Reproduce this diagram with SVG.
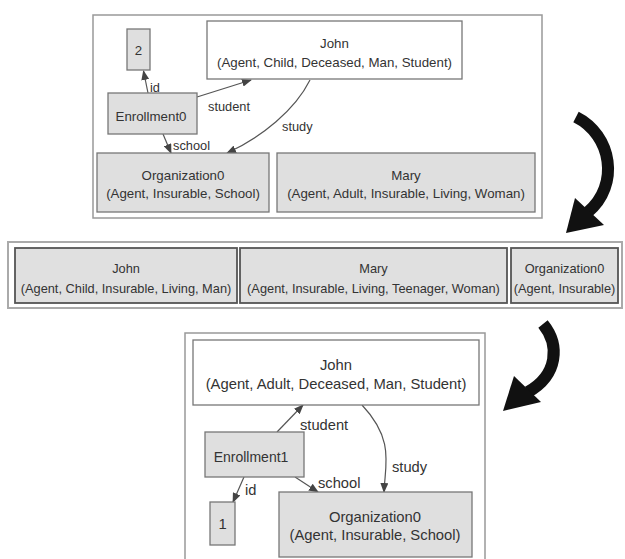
<svg xmlns="http://www.w3.org/2000/svg" width="625" height="559" viewBox="0 0 625 559">
<defs>
<style>
.frame{fill:#fff;stroke:#999;stroke-width:1.5}
.mframe{fill:#fff;stroke:#aaa;stroke-width:2}
.n{fill:#dfdfdf;stroke:#777;stroke-width:1.3}
.nw{fill:#fff;stroke:#777;stroke-width:1.3}
.nm{fill:#e0e0e0;stroke:#555;stroke-width:1.8}
text{font-family:"Liberation Sans",Arial,sans-serif;fill:#333;text-anchor:middle}
.t1{font-size:13.3px}
.t2{font-size:12.8px}
.t3{font-size:14.8px}
.l1{font-size:12.8px;text-anchor:start}
.l3{font-size:14.7px;text-anchor:start}
.e{fill:none;stroke:#555;stroke-width:1.2}
.big{fill:none;stroke:#111;stroke-width:12}
</style>
<marker id="ah" markerUnits="userSpaceOnUse" markerWidth="10" markerHeight="8" refX="9" refY="4" orient="auto" viewBox="0 0 10 8">
<path d="M0,0 L10,4 L0,8 Z" fill="#444"/>
</marker>
</defs>

<rect class="frame" x="93" y="15" width="449" height="203"/>
<rect class="mframe" x="8" y="242" width="614" height="66"/>
<rect class="frame" x="185" y="333" width="300" height="240"/>

<g id="connectors">
<path class="e" d="M148,93 L143.5,71" marker-end="url(#ah)"/>
<path class="e" d="M197,97 L251,80" marker-end="url(#ah)"/>
<path class="e" d="M310,80 C295,110 262,137 227,153" marker-end="url(#ah)"/>
<path class="e" d="M163,134 L171,153" marker-end="url(#ah)"/>
<text class="l1" x="150" y="91.5">id</text>
<text class="l1" x="208" y="110.5">student</text>
<text class="l1" x="282" y="130.5">study</text>
<text class="l1" x="173" y="149.5">school</text>

<path class="e" d="M277,432 L303,405" marker-end="url(#ah)"/>
<path class="e" d="M362,405 C395,440 385,465 384,492" marker-end="url(#ah)"/>
<path class="e" d="M295,477 L318,492" marker-end="url(#ah)"/>
<path class="e" d="M244,477 L233,502" marker-end="url(#ah)"/>
<text class="l3" x="300" y="430">student</text>
<text class="l3" x="392" y="472">study</text>
<text class="l3" x="318" y="488">school</text>
<text class="l3" x="245" y="495">id</text>

<path class="big" d="M576,117 C612,135 620,185 588,212"/>
<polygon points="575,198 604,225 566,233" fill="#111"/>
<path class="big" d="M543,324 C560,345 558,375 528,392"/>
<polygon points="514,376 541,402 503,411" fill="#111"/>
</g>

<g id="top-2"><rect class="n" x="127" y="29" width="23" height="41"/><text class="t1" x="138.5" y="54.7">2</text></g>
<g id="top-john"><rect class="nw" x="207" y="21" width="255" height="58"/><text class="t1" x="334.5" y="47.7">John</text><text class="t1" x="334.5" y="66.7">(Agent, Child, Deceased, Man, Student)</text></g>
<g id="top-enrollment0"><rect class="n" x="108" y="93" width="89" height="41"/><text class="t1" x="151" y="121">Enrollment0</text></g>
<g id="top-org0"><rect class="n" x="97" y="153" width="172" height="59"/><text class="t1" x="183" y="179.7">Organization0</text><text class="t1" x="183" y="197.7">(Agent, Insurable, School)</text></g>
<g id="top-mary"><rect class="n" x="277" y="153" width="258" height="59"/><text class="t1" x="406" y="179.7">Mary</text><text class="t1" x="406" y="197.7">(Agent, Adult, Insurable, Living, Woman)</text></g>

<g id="mid-john"><rect class="nm" x="15" y="248" width="222" height="55"/><text class="t2" x="126" y="272.5">John</text><text class="t2" x="126" y="292.5">(Agent, Child, Insurable, Living, Man)</text></g>
<g id="mid-mary"><rect class="nm" x="240" y="248" width="267" height="55"/><text class="t2" x="373.5" y="272.5">Mary</text><text class="t2" x="373.5" y="292.5">(Agent, Insurable, Living, Teenager, Woman)</text></g>
<g id="mid-org0"><rect class="nm" x="511" y="248" width="107" height="55"/><text class="t2" x="564.5" y="272.5">Organization0</text><text class="t2" x="564.5" y="292.5">(Agent, Insurable)</text></g>

<g id="bot-john"><rect class="nw" x="193" y="340" width="286" height="65"/><text class="t3" x="336" y="370">John</text><text class="t3" x="336" y="389">(Agent, Adult, Deceased, Man, Student)</text></g>
<g id="bot-enrollment1"><rect class="n" x="205" y="432" width="99" height="45"/><text class="t3" x="251" y="462" style="font-size:14px">Enrollment1</text></g>
<g id="bot-1"><rect class="n" x="210" y="502" width="25" height="43"/><text class="t3" x="222.5" y="529">1</text></g>
<g id="bot-org0"><rect class="n" x="279" y="492" width="193" height="65"/><text class="t3" x="375" y="522">Organization0</text><text class="t3" x="375" y="540">(Agent, Insurable, School)</text></g>
</svg>
